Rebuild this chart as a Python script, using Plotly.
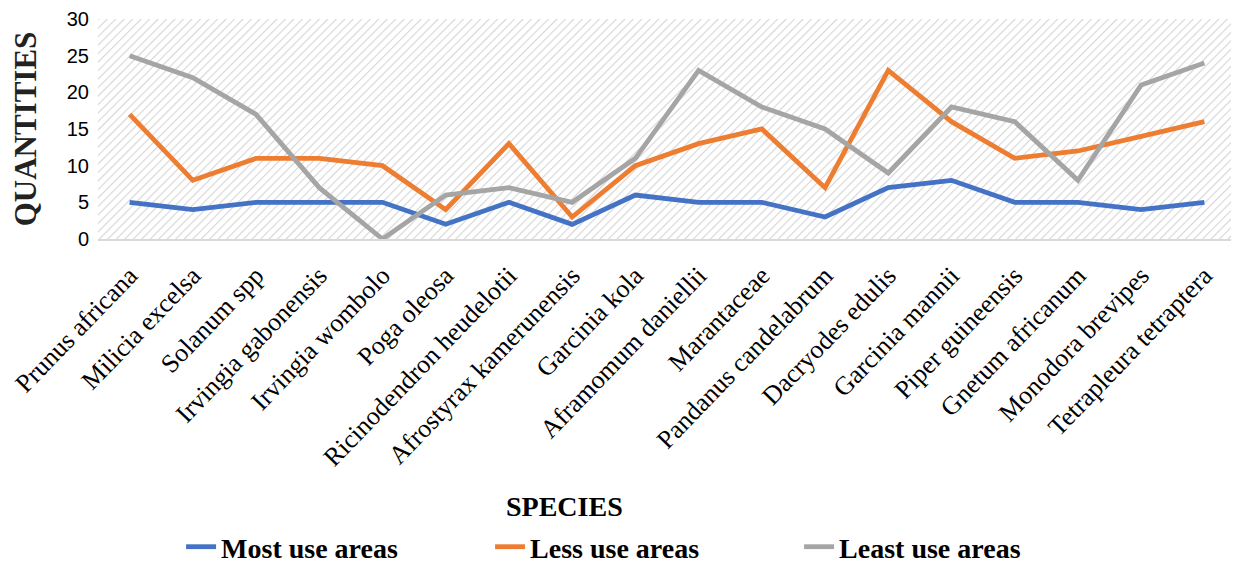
import base64
import plotly.graph_objects as go

species = ["Prunus africana", "Milicia excelsa", "Solanum spp", "Irvingia gabonensis",
           "Irvingia wombolo", "Poga oleosa", "Ricinodendron heudelotii",
           "Afrostyrax kamerunensis", "Garcinia kola", "Aframomum daniellii",
           "Marantaceae", "Pandanus candelabrum", "Dacryodes edulis", "Garcinia mannii",
           "Piper guineensis", "Gnetum africanum", "Monodora brevipes",
           "Tetrapleura tetraptera"]
most_use = [5, 4, 5, 5, 5, 2, 5, 2, 6, 5, 5, 3, 7, 8, 5, 5, 4, 5]
less_use = [17, 8, 11, 11, 10, 4, 13, 3, 10, 13, 15, 7, 23, 16, 11, 12, 14, 16]
least_use = [25, 22, 17, 7, 0, 6, 7, 5, 11, 23, 18, 15, 9, 18, 16, 8, 21, 24]

# diagonal hatch for the plot background
svg = ('<svg xmlns="http://www.w3.org/2000/svg" width="1138" height="220">'
       '<defs><pattern id="h" width="6" height="6" patternUnits="userSpaceOnUse" '
       'patternTransform="rotate(45)"><rect width="6" height="6" fill="white"/>'
       '<line x1="0" y1="0" x2="0" y2="6" stroke="#d6d6d6" stroke-width="2.2"/>'
       '</pattern></defs><rect width="1138" height="220" fill="url(#h)"/></svg>')
hatch = "data:image/svg+xml;base64," + base64.b64encode(svg.encode()).decode()

serif = "Liberation Serif"
fig = go.Figure()
for name, vals, col in [("Most use areas", most_use, "#4472c4"),
                        ("Less use areas", less_use, "#ed7d31"),
                        ("Least use areas", least_use, "#a5a5a5")]:
    fig.add_trace(go.Scatter(x=species, y=vals, mode="lines", name=name,
                             line=dict(color=col, width=4.8)))

fig.add_layout_image(dict(source=hatch, xref="paper", yref="paper", x=0, y=1,
                          sizex=1, sizey=1, sizing="stretch", layer="below"))

# page body has an 8px margin, so the figure is 8px smaller than the window
fig.update_layout(
    width=1231, height=557,
    margin=dict(l=90, r=3, t=11, b=326, autoexpand=False),
    plot_bgcolor="white", paper_bgcolor="white",
    showlegend=True,
    legend=dict(orientation="h", x=0.073, xanchor="left", y=-1.40, yanchor="middle",
                font=dict(family=serif, size=28, color="black", weight="bold"),
                entrywidth=264, entrywidthmode="pixels", tracegroupgap=0,
                borderwidth=0),
    xaxis=dict(tickangle=-46, tickfont=dict(family=serif, size=26, color="black"),
               range=[-0.5, 17.5], automargin=False, ticklabelstandoff=9,
               showgrid=False, showline=True, linecolor="#d9d9d9", linewidth=2,
               ticks=""),
    yaxis=dict(range=[0, 30], dtick=5, showgrid=False, zeroline=False,
               automargin=False,
               tickfont=dict(family="Liberation Sans", size=20, color="black"),
               ticks="", ticklabelstandoff=8,
               title=dict(text="<b>QUANTITIES</b>", standoff=22,
                          font=dict(family=serif, size=31, color="#222"))),
)
fig.add_annotation(text="<b>SPECIES</b>", xref="paper", yref="paper", x=0.41, y=-1.217,
                   showarrow=False, yanchor="middle",
                   font=dict(family=serif, size=28, color="black"))

fig.write_html("out.html")
